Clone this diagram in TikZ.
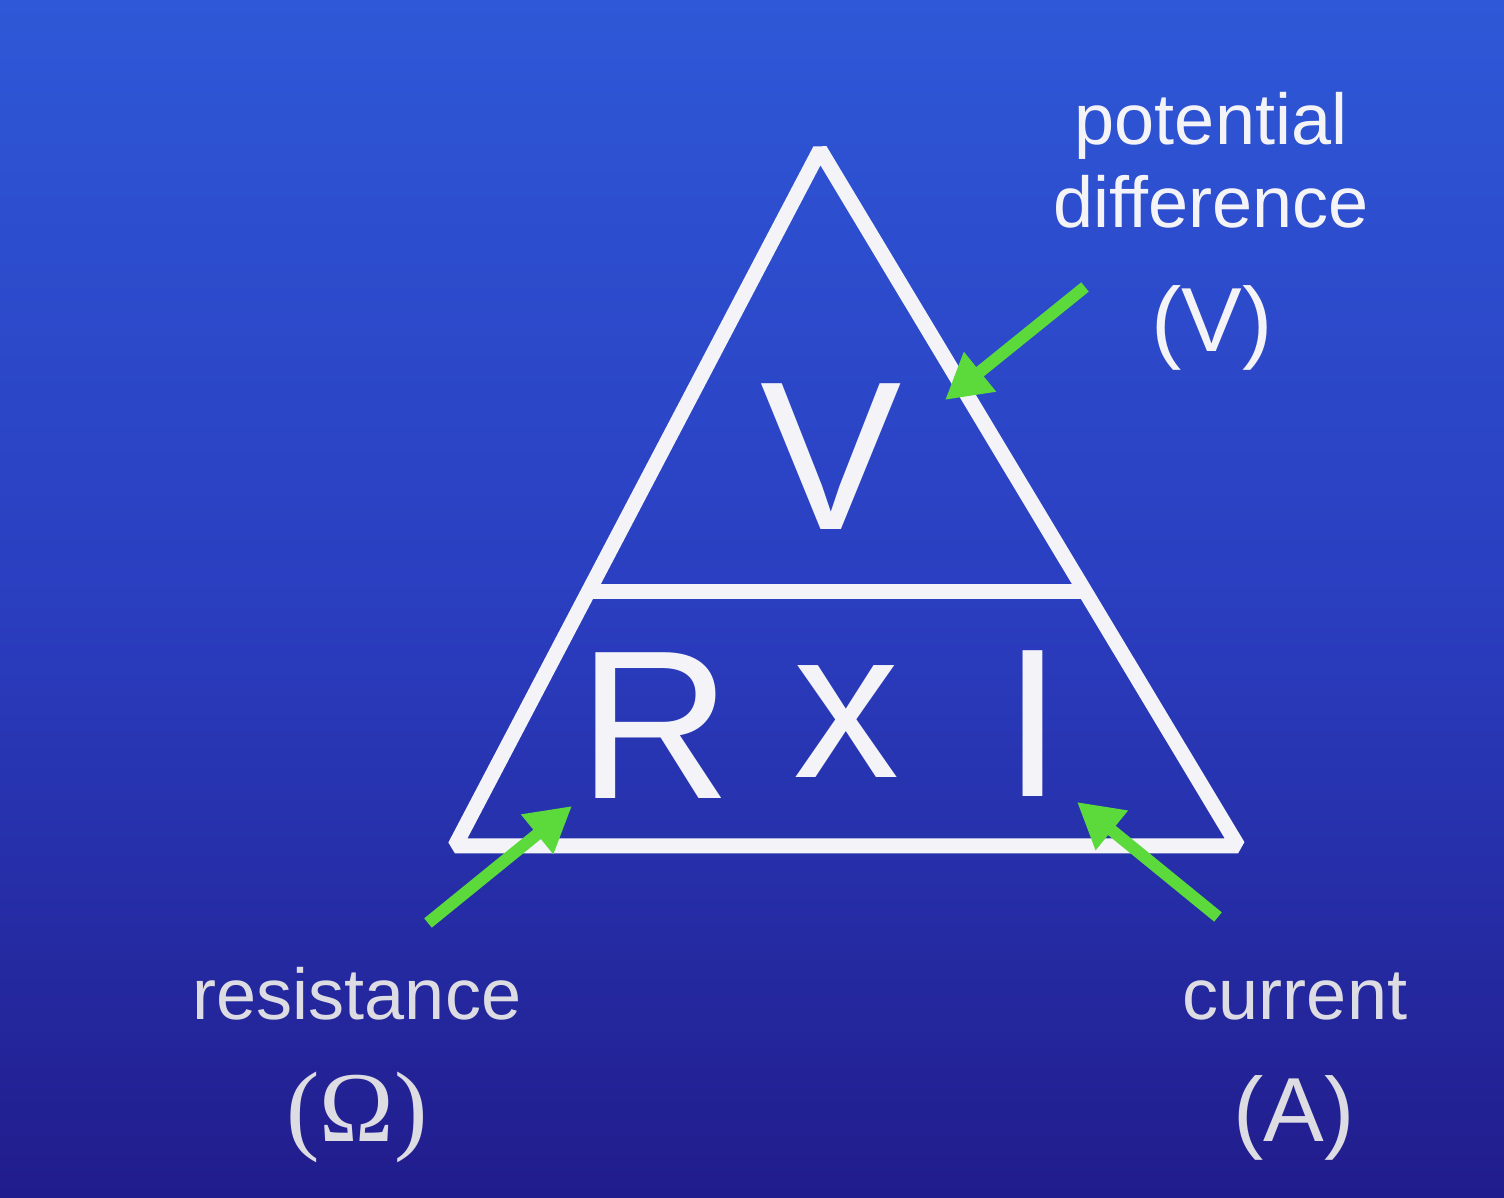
\documentclass[tikz,border=0pt]{standalone}
\usepackage{fontspec}
\setmainfont{Liberation Sans}
\newfontfamily\omegafont{Liberation Serif}
\usepackage{xcolor}
\usetikzlibrary{arrows.meta}
\definecolor{bgtop}{RGB}{46,88,215}
\definecolor{bgmid}{RGB}{42,62,192}
\definecolor{bgbot}{RGB}{33,28,140}
\definecolor{chalk}{RGB}{244,244,248}
\definecolor{chalkdim}{RGB}{220,220,226}
\definecolor{pointer}{RGB}{92,218,60}

\begin{document}
\begin{tikzpicture}[x=0.1mm,y=-0.1mm,
  label/.style={anchor=base,inner sep=0pt,text=chalk,font=\fontsize{20.5}{24}\selectfont},
  unit/.style={anchor=base,inner sep=0pt,text=chalk,font=\fontsize{25.9}{30}\selectfont},
  letter/.style={anchor=base,inner sep=0pt,text=chalk,font=\fontsize{60.3}{70}\selectfont},
  side/.style={draw=chalk,line width=1.5mm,line join=bevel},
  pointer/.style={draw=pointer,line width=1.2mm,-{Triangle[length=4.5mm,width=4.8mm]}}]

  % --- background ---
  \shade[top color=bgtop,bottom color=bgbot,middle color=bgmid] (0,0) rectangle (1504,1198);
  \useasboundingbox (0,0) rectangle (1504,1198);

  % --- triangle ---
  \coordinate (apex) at (820,150);
  \coordinate (botleft) at (455,846);
  \coordinate (botright) at (1238,846);
  \coordinate (midleft) at (588,592);
  \coordinate (midright) at (1085,592);
  \draw[side] (apex) -- (botleft) -- (botright) -- cycle;
  \draw[side,line cap=butt] (midleft) -- (midright);

  % --- letters ---
  \node[letter] (volt) at (831,530) {V};
  \node[letter] (res) at (655,799) {R};
  \node[letter] (times) at (846,778) {x};
  \node[letter] (cur) at (1033,797) {I};

  % --- labels ---
  \node[label] (pot) at (1211,145) {potential};
  \node[label] (diff) at (1211,228) {difference};
  \node[unit] (vunit) at (1212,352) {(V)};
  \node[label,text=chalkdim] (resist) at (357,1020) {resistance};
  \node[anchor=base,inner sep=0pt,text=chalkdim,font=\omegafont\fontsize{28.5}{32}\selectfont]
    (ohm) at (357,1142) {(Ω)};
  \node[label,text=chalkdim] (current) at (1295,1020) {current};
  \node[unit,text=chalkdim] (amp) at (1294,1142) {(A)};

  % --- pointers ---
  \coordinate (vtail) at (1085,287);  \coordinate (vtip) at (945,400);
  \coordinate (rtail) at (428,923);   \coordinate (rtip) at (572,806);
  \coordinate (itail) at (1218,917);  \coordinate (itip) at (1077,802);
  \draw[pointer] (vtail) -- (vtip);
  \draw[pointer] (rtail) -- (rtip);
  \draw[pointer] (itail) -- (itip);
\end{tikzpicture}
\end{document}
